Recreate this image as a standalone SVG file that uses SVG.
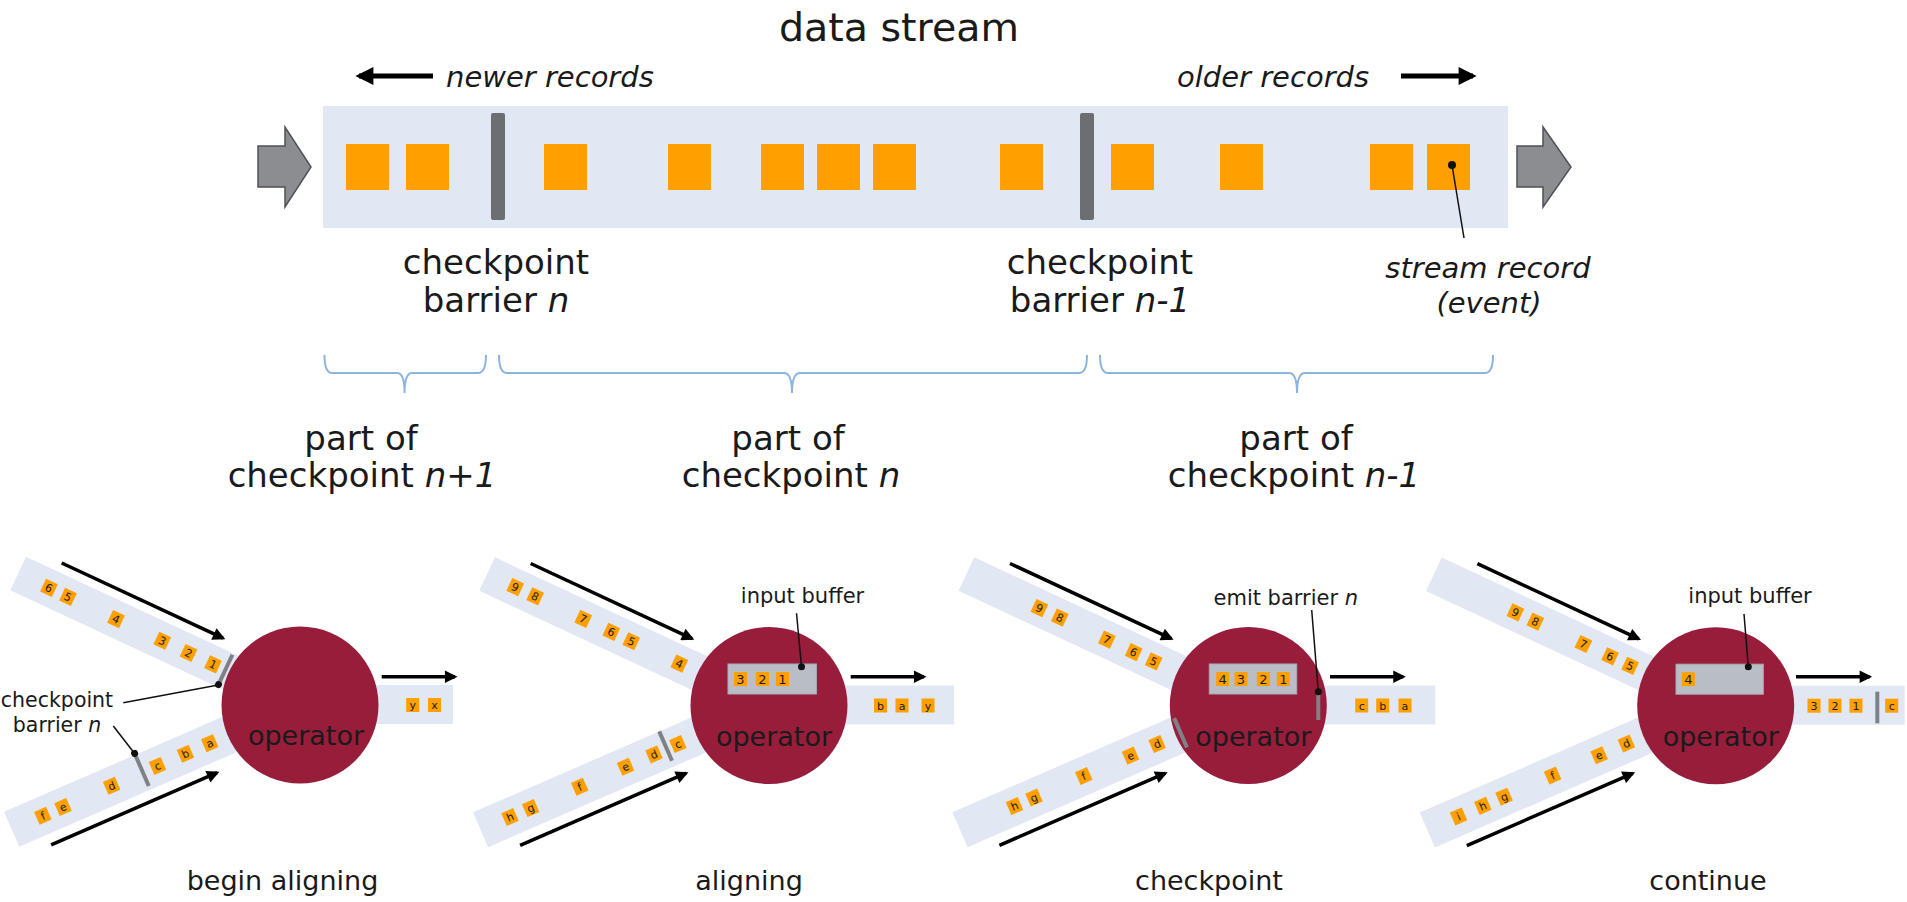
<svg xmlns="http://www.w3.org/2000/svg" xmlns:xlink="http://www.w3.org/1999/xlink" width="1907" height="902" viewBox="0 0 1907 902">
<style>
.band{fill:#e1e7f3}
.rec{fill:#ffa000}
.bar{fill:#6c6e72}
.sb{stroke:#7f8185;stroke-width:4;fill:none}
.op{fill:#971d3b}
.buf{fill:#b9bec6;stroke:#a6abb3;stroke-width:1}
.arr{stroke:#000;stroke-width:3.5;fill:none;marker-end:url(#ah)}
.arrT{stroke:#000;stroke-width:5;fill:none;marker-end:url(#ah)}
.lead{stroke:#111;stroke-width:1.5;fill:none}
.dot{fill:#111}
.brace{stroke:#8db3df;stroke-width:2;fill:none}
.blk{fill:#8b8d91;stroke:#505256;stroke-width:1.5}
text{font-family:"DejaVu Sans",Verdana,sans-serif;fill:#1a1a1a}
.it{font-style:italic}
.c{text-anchor:middle}
.s{font-size:11px;text-anchor:middle}
.b{font-size:13px;text-anchor:middle}
.L{font-size:34px;text-anchor:middle}
.cap{font-size:27px;text-anchor:middle}
.opt{font-size:27px;text-anchor:middle}
.lab{font-size:21px;text-anchor:middle}
</style>
<defs>
<marker id="ah" viewBox="0 0 10 10" refX="8" refY="5" markerWidth="4" markerHeight="3.6" orient="auto" markerUnits="strokeWidth"><path d="M0,0 L10,5 L0,10 z" fill="#000"/></marker>
<rect id="sq" x="-6.5" y="-7" width="13" height="14" fill="#ffa000"/>
</defs>

<!-- ===== top: data stream ===== -->
<g id="title"><text class="c" x="899" y="41" font-size="39.5">data stream</text></g>
<g id="newer">
<line class="arrT" x1="433" y1="76" x2="359" y2="76"/>
<text class="it" x="446" y="87" font-size="29">newer records</text>
</g>
<g id="older">
<text class="it" x="1177" y="87" font-size="29">older records</text>
<line class="arrT" x1="1401" y1="76" x2="1473" y2="76"/>
</g>

<g id="stream">
<polygon class="blk" points="258,146 285,146 285,127 311,167 285,207 285,187 258,187"/>
<rect class="band" x="323" y="106" width="1185" height="122"/>
<polygon class="blk" points="1517,146 1543,146 1543,127 1571,167 1543,207 1543,187 1517,187"/>
<g class="rec">
<rect x="346" y="144" width="43" height="46"/>
<rect x="406" y="144" width="43" height="46"/>
<rect x="544" y="144" width="43" height="46"/>
<rect x="668" y="144" width="43" height="46"/>
<rect x="761" y="144" width="43" height="46"/>
<rect x="817" y="144" width="43" height="46"/>
<rect x="873" y="144" width="43" height="46"/>
<rect x="1000" y="144" width="43" height="46"/>
<rect x="1111" y="144" width="43" height="46"/>
<rect x="1220" y="144" width="43" height="46"/>
<rect x="1370" y="144" width="43" height="46"/>
<rect x="1427" y="144" width="43" height="46"/>
</g>
</g>
<g id="barrier-n">
<rect class="bar" x="491" y="113" width="14" height="107" rx="2"/>
<text class="L" x="496" y="274">checkpoint</text>
<text class="L" x="496" y="312">barrier <tspan class="it">n</tspan></text>
</g>
<g id="barrier-n-1">
<rect class="bar" x="1080" y="113" width="14" height="107" rx="2"/>
<text class="L" x="1100" y="274">checkpoint</text>
<text class="L" x="1100" y="312">barrier <tspan class="it">n-1</tspan></text>
</g>
<g id="stream-record">
<line class="lead" x1="1452" y1="165" x2="1464" y2="238"/>
<circle class="dot" cx="1452" cy="165" r="4"/>
<text class="it c" x="1488" y="278" font-size="29">stream record</text>
<text class="it c" x="1489" y="313" font-size="29">(event)</text>
</g>

<!-- braces -->
<g id="braces">
<path class="brace" d="M324.5,355 Q324.5,373 332,373 L397,373 Q404.6,373 404.6,393 Q404.6,373 412,373 L478,373 Q486,373 486,355"/>
<path class="brace" d="M499,355 Q499,373 507,373 L784,373 Q792,373 792,393 Q792,373 800,373 L1079,373 Q1087,373 1087,355"/>
<path class="brace" d="M1100,355 Q1100,373 1108,373 L1289,373 Q1297,373 1297,393 Q1297,373 1305,373 L1485,373 Q1493,373 1493,355"/>
</g>
<g id="part-n1"><text class="L" x="361" y="450">part of</text><text class="L" x="362" y="487">checkpoint <tspan class="it">n+1</tspan></text></g>
<g id="part-n"><text class="L" x="788" y="450">part of</text><text class="L" x="791" y="487">checkpoint <tspan class="it">n</tspan></text></g>
<g id="part-n-1"><text class="L" x="1296" y="450">part of</text><text class="L" x="1294" y="487">checkpoint <tspan class="it">n-1</tspan></text></g>

<!-- ===== panel 1: begin aligning ===== -->
<g id="panel1" transform="translate(300,705)">
<g transform="rotate(25)">
<rect class="band" x="-311" y="-18.5" width="311" height="37"/>
<line class="arr" x1="-276" y1="-28" x2="-98" y2="-28"/>
<use href="#sq" x="-277"/><text class="s" x="-277" y="4">6</text>
<use href="#sq" x="-256"/><text class="s" x="-256" y="4">5</text>
<use href="#sq" x="-203"/><text class="s" x="-203" y="4">4</text>
<use href="#sq" x="-152"/><text class="s" x="-152" y="4">3</text>
<use href="#sq" x="-123"/><text class="s" x="-123" y="4">2</text>
<use href="#sq" x="-96"/><text class="s" x="-96" y="4">1</text>
</g>
<g transform="rotate(-23.5)">
<rect class="band" x="-314" y="-20" width="314" height="38"/>
<line class="arr" x1="-284" y1="29" x2="-103" y2="29"/>
<use href="#sq" x="-280" y="-1"/><text class="s" x="-280" y="3">f</text>
<use href="#sq" x="-258" y="-1"/><text class="s" x="-258" y="3">e</text>
<use href="#sq" x="-205" y="-1"/><text class="s" x="-205" y="3">d</text>
<line class="sb" x1="-171" y1="-21.5" x2="-171" y2="14"/>
<circle class="dot" cx="-171" cy="-21.5" r="3.5"/>
<use href="#sq" x="-155" y="-1"/><text class="s" x="-155" y="3">c</text>
<use href="#sq" x="-124.5" y="-1"/><text class="s" x="-124.5" y="3">b</text>
<use href="#sq" x="-98" y="-1"/><text class="s" x="-98" y="3">a</text>
</g>
<rect class="band" x="0" y="-20" width="153" height="39"/>
<line class="arr" x1="81.7" y1="-28.3" x2="155" y2="-28.3"/>
<use href="#sq" x="112.7" y="0"/><text class="s" x="112.7" y="4">y</text>
<use href="#sq" x="134.5" y="0"/><text class="s" x="134.5" y="4">x</text>
<circle class="op" cx="0" cy="0" r="78.5"/>
<g transform="rotate(25)">
<line class="sb" x1="-82.5" y1="-17" x2="-82.5" y2="16"/>
<circle class="dot" cx="-82.5" cy="16" r="3.5"/>
</g>
<text class="opt" x="6" y="40">operator</text>
<line class="lead" x1="-176.7" y1="-2.3" x2="-81.7" y2="-20"/>
<line class="lead" x1="-186.7" y1="21" x2="-165.4" y2="48.5"/>
<text x="-243" y="2" font-size="20.5" class="c">checkpoint</text>
<text x="-243" y="27" font-size="20.5" class="c">barrier <tspan class="it">n</tspan></text>
</g>
<g id="cap1"><text class="cap" x="282.5" y="890">begin aligning</text></g>

<!-- ===== panel 2: aligning ===== -->
<g id="panel2" transform="translate(769,705.5)">
<g transform="rotate(25)">
<rect class="band" x="-311" y="-18.5" width="311" height="37"/>
<line class="arr" x1="-276" y1="-28" x2="-98" y2="-28"/>
<use href="#sq" x="-280"/><text class="s" x="-280" y="4">9</text>
<use href="#sq" x="-258"/><text class="s" x="-258" y="4">8</text>
<use href="#sq" x="-205"/><text class="s" x="-205" y="4">7</text>
<use href="#sq" x="-174"/><text class="s" x="-174" y="4">6</text>
<use href="#sq" x="-152"/><text class="s" x="-152" y="4">5</text>
<use href="#sq" x="-99"/><text class="s" x="-99" y="4">4</text>
</g>
<g transform="rotate(-23.5)">
<rect class="band" x="-314" y="-20" width="314" height="38"/>
<line class="arr" x1="-284" y1="29" x2="-103" y2="29"/>
<use href="#sq" x="-282" y="-1"/><text class="s" x="-282" y="3">h</text>
<use href="#sq" x="-259.5" y="-1"/><text class="s" x="-259.5" y="3">g</text>
<use href="#sq" x="-206" y="-1"/><text class="s" x="-206" y="3">f</text>
<use href="#sq" x="-156" y="-1"/><text class="s" x="-156" y="3">e</text>
<use href="#sq" x="-125" y="-1"/><text class="s" x="-125" y="3">d</text>
<line class="sb" x1="-111" y1="-20" x2="-111" y2="12"/>
<use href="#sq" x="-99" y="-1"/><text class="s" x="-99" y="3">c</text>
</g>
<rect class="band" x="0" y="-20" width="185" height="39"/>
<line class="arr" x1="81.7" y1="-28.8" x2="155" y2="-28.8"/>
<use href="#sq" x="111.5" y="0"/><text class="s" x="111.5" y="4">b</text>
<use href="#sq" x="133" y="0"/><text class="s" x="133" y="4">a</text>
<use href="#sq" x="159" y="0"/><text class="s" x="159" y="4">y</text>
<circle class="op" cx="0" cy="0" r="78.5"/>
<rect class="buf" x="-41" y="-41.5" width="88.4" height="30"/>
<use href="#sq" x="-28.5" y="-26.5"/><text class="b" x="-28.5" y="-21.5">3</text>
<use href="#sq" x="-6.5" y="-26.5"/><text class="b" x="-6.5" y="-21.5">2</text>
<use href="#sq" x="13.5" y="-26.5"/><text class="b" x="13.5" y="-21.5">1</text>
<text class="opt" x="5" y="40">operator</text>
<line class="lead" x1="27.5" y1="-92.2" x2="32.5" y2="-38.8"/>
<circle class="dot" cx="32.5" cy="-38.8" r="3.5"/>
<text class="lab" x="33.5" y="-102.8">input buffer</text>
</g>
<g id="cap2"><text class="cap" x="749" y="890">aligning</text></g>

<!-- ===== panel 3: checkpoint ===== -->
<g id="panel3" transform="translate(1248.3,705.5)">
<g transform="rotate(25)">
<rect class="band" x="-311" y="-18.5" width="311" height="37"/>
<line class="arr" x1="-276" y1="-28" x2="-98" y2="-28"/>
<use href="#sq" x="-230.5"/><text class="s" x="-230.5" y="4">9</text>
<use href="#sq" x="-208"/><text class="s" x="-208" y="4">8</text>
<use href="#sq" x="-156"/><text class="s" x="-156" y="4">7</text>
<use href="#sq" x="-126.5"/><text class="s" x="-126.5" y="4">6</text>
<use href="#sq" x="-104.4"/><text class="s" x="-104.4" y="4">5</text>
</g>
<g transform="rotate(-23.5)">
<rect class="band" x="-314" y="-20" width="314" height="38"/>
<line class="arr" x1="-284" y1="29" x2="-103" y2="29"/>
<use href="#sq" x="-254.5" y="-1"/><text class="s" x="-254.5" y="3">h</text>
<use href="#sq" x="-233.3" y="-1"/><text class="s" x="-233.3" y="3">g</text>
<use href="#sq" x="-179" y="-1"/><text class="s" x="-179" y="3">f</text>
<use href="#sq" x="-128" y="-1"/><text class="s" x="-128" y="3">e</text>
<use href="#sq" x="-99" y="-1"/><text class="s" x="-99" y="3">d</text>
</g>
<rect class="band" x="0" y="-20" width="187" height="39"/>
<line class="arr" x1="81.7" y1="-28.8" x2="155" y2="-28.8"/>
<use href="#sq" x="113.4" y="0"/><text class="s" x="113.4" y="4">c</text>
<use href="#sq" x="134.4" y="0"/><text class="s" x="134.4" y="4">b</text>
<use href="#sq" x="156.7" y="0"/><text class="s" x="156.7" y="4">a</text>
<circle class="op" cx="0" cy="0" r="78.5"/>
<g transform="rotate(-23.5)">
<line class="sb" x1="-73" y1="-18" x2="-73" y2="14"/>
</g>
<rect class="buf" x="-39" y="-41.5" width="87.4" height="30"/>
<use href="#sq" x="-25.6" y="-26.5"/><text class="b" x="-25.6" y="-21.5">4</text>
<use href="#sq" x="-7.3" y="-26.5"/><text class="b" x="-7.3" y="-21.5">3</text>
<use href="#sq" x="15" y="-26.5"/><text class="b" x="15" y="-21.5">2</text>
<use href="#sq" x="35" y="-26.5"/><text class="b" x="35" y="-21.5">1</text>
<text class="opt" x="5" y="40">operator</text>
<line class="sb" x1="70" y1="-12" x2="70" y2="14.5"/>
<line class="lead" x1="63.4" y1="-95.5" x2="70" y2="-13.8"/>
<circle class="dot" cx="70" cy="-13.8" r="3.5"/>
<text class="lab" x="37.5" y="-100.5">emit barrier <tspan class="it">n</tspan></text>
</g>
<g id="cap3"><text class="cap" x="1209" y="890">checkpoint</text></g>

<!-- ===== panel 4: continue ===== -->
<g id="panel4" transform="translate(1715.7,705.7)">
<g transform="rotate(25)">
<rect class="band" x="-311" y="-18.5" width="311" height="37"/>
<line class="arr" x1="-276" y1="-28" x2="-98" y2="-28"/>
<use href="#sq" x="-221"/><text class="s" x="-221" y="4">9</text>
<use href="#sq" x="-199"/><text class="s" x="-199" y="4">8</text>
<use href="#sq" x="-146"/><text class="s" x="-146" y="4">7</text>
<use href="#sq" x="-116.5"/><text class="s" x="-116.5" y="4">6</text>
<use href="#sq" x="-94.4"/><text class="s" x="-94.4" y="4">5</text>
</g>
<g transform="rotate(-23.5)">
<rect class="band" x="-314" y="-20" width="314" height="38"/>
<line class="arr" x1="-284" y1="29" x2="-103" y2="29"/>
<use href="#sq" x="-280" y="-1"/><text class="s" x="-280" y="3">i</text>
<use href="#sq" x="-253.5" y="-1"/><text class="s" x="-253.5" y="3">h</text>
<use href="#sq" x="-230.4" y="-1"/><text class="s" x="-230.4" y="3">g</text>
<use href="#sq" x="-177.4" y="-1"/><text class="s" x="-177.4" y="3">f</text>
<use href="#sq" x="-126.7" y="-1"/><text class="s" x="-126.7" y="3">e</text>
<use href="#sq" x="-97" y="-1"/><text class="s" x="-97" y="3">d</text>
</g>
<rect class="band" x="0" y="-20" width="189" height="39"/>
<line class="arr" x1="80.3" y1="-29" x2="154" y2="-29"/>
<use href="#sq" x="98.3" y="0"/><text class="s" x="98.3" y="4">3</text>
<use href="#sq" x="119.3" y="0"/><text class="s" x="119.3" y="4">2</text>
<use href="#sq" x="140.3" y="0"/><text class="s" x="140.3" y="4">1</text>
<line class="sb" x1="161.6" y1="-14" x2="161.6" y2="17.6"/>
<use href="#sq" x="176" y="0"/><text class="s" x="176" y="4">c</text>
<circle class="op" cx="0" cy="0" r="78.5"/>
<rect class="buf" x="-39.7" y="-41.5" width="87.3" height="30"/>
<use href="#sq" x="-27.4" y="-26.5"/><text class="b" x="-27.4" y="-21.5">4</text>
<text class="opt" x="5" y="40">operator</text>
<line class="lead" x1="28.3" y1="-91.7" x2="32.6" y2="-39"/>
<circle class="dot" cx="32.6" cy="-39" r="3.5"/>
<text class="lab" x="34.3" y="-103">input buffer</text>
</g>
<g id="cap4"><text class="cap" x="1708" y="890">continue</text></g>
</svg>
